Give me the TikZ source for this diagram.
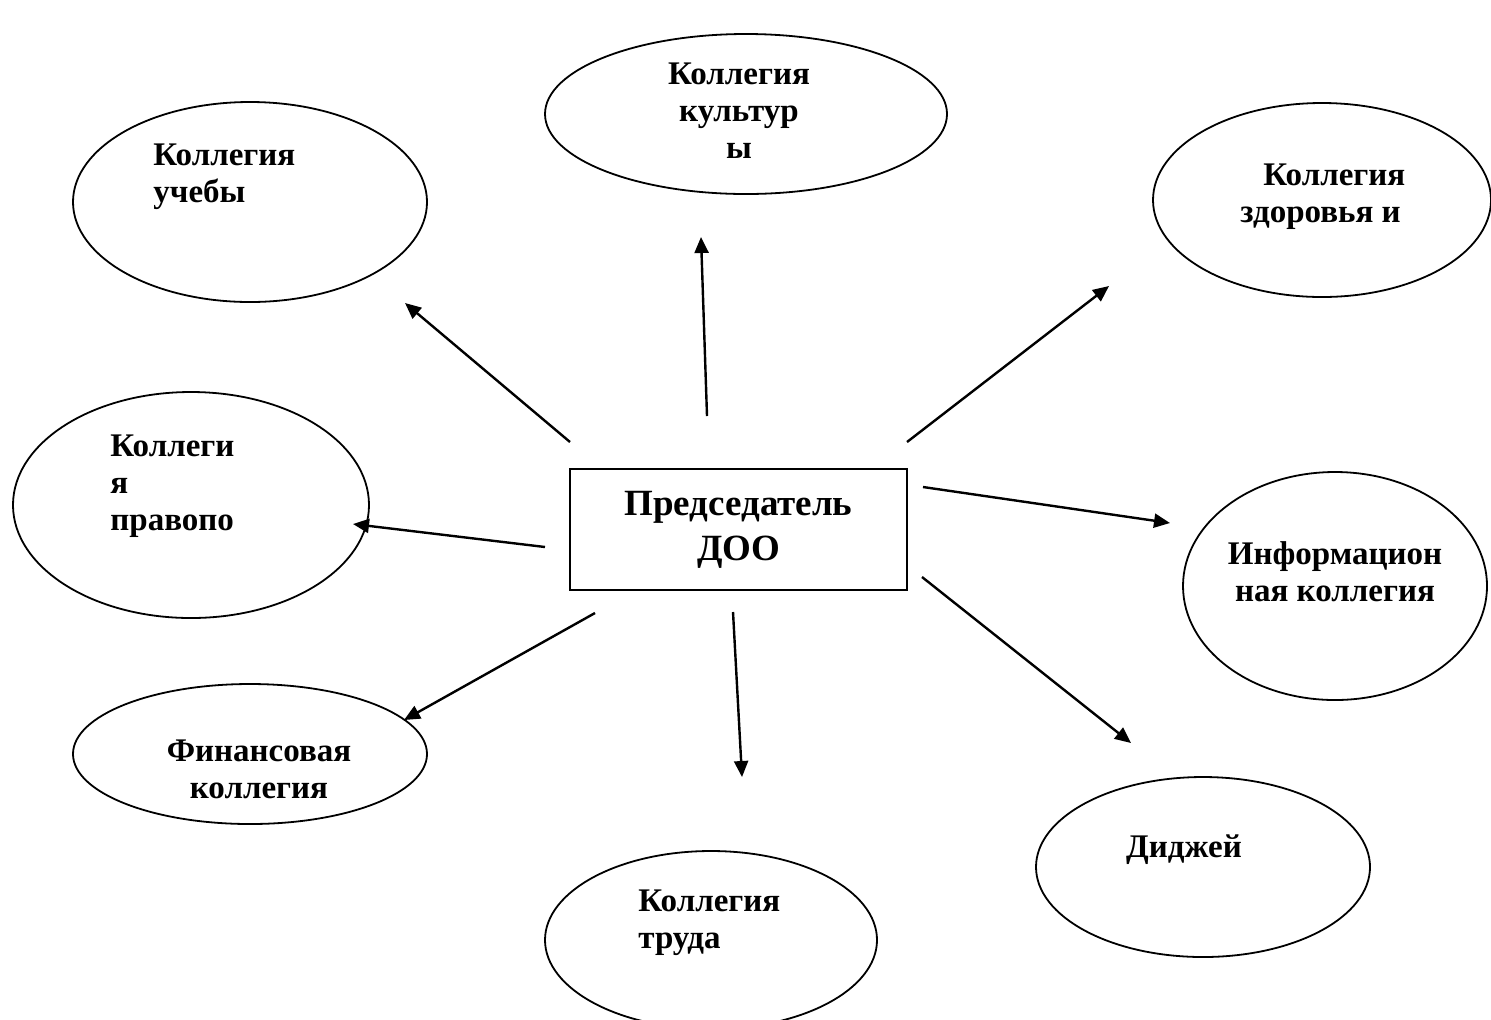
\documentclass[tikz,border=0pt]{standalone}
\usepackage{fontspec}
\setmainfont{Liberation Serif}
\usetikzlibrary{shapes.geometric,arrows.meta}
\begin{document}
\begin{tikzpicture}[x=0.5pt,y=-0.5pt,
  oval/.style={draw, ellipse, line width=0.9pt, inner sep=0pt},
  box/.style={draw, rectangle, line width=0.9pt, inner sep=0pt, align=center,
    font=\fontsize{18.5}{22.5}\selectfont\bfseries},
  lbl/.style={font=\fontsize{16.5}{18.5}\selectfont\bfseries, inner sep=0pt},
  arr/.style={line width=1.2pt, -{Triangle[length=8pt,width=7pt]}}]
\useasboundingbox (0,0) rectangle (1491,1019);
\clip (0,0) rectangle (1491,1019);
\fill[white] (0,0) rectangle (1491,1019);

% central box
\node[box, minimum width=168.5pt, minimum height=60.5pt] (chair) at (738.5,529.5) {Председатель\\ДОО};

% ellipses
\node[oval, minimum width=177pt, minimum height=100pt] (uch) at (250,202) {};
\node[oval, minimum width=201pt, minimum height=80pt] (kult) at (746,114) {};
\node[oval, minimum width=169pt, minimum height=97pt] (zdor) at (1322,200) {};
\node[oval, minimum width=178pt, minimum height=113pt] (prav) at (191,505) {};
\node[oval, minimum width=152pt, minimum height=114pt] (info) at (1335,586) {};
\node[oval, minimum width=177pt, minimum height=70pt] (fin) at (250,754) {};
\node[oval, minimum width=167pt, minimum height=90pt] (didj) at (1203,867) {};
\node[oval, minimum width=166pt, minimum height=89pt] (trud) at (711,940) {};

% labels (base anchor = baseline of the last line)
\node[lbl, align=left, anchor=base west] (tuch) at (153,202) {Коллегия\\учебы};
\node[lbl, align=center, anchor=base] (tkult) at (739,158) {Коллегия\\культур\\ы};
\node[lbl, align=left, anchor=base west] (tzdor) at (1240,222) {\hspace*{11.5pt}Коллегия\\здоровья и};
\node[lbl, align=left, anchor=base west] (tprav) at (110,530) {Коллеги\\я\\правопо};
\node[lbl, align=center, anchor=base] (tinfo) at (1335,601) {Информацион\\ная коллегия};
\node[lbl, align=center, anchor=base] (tfin) at (259,798) {Финансовая\\коллегия};
\node[lbl, anchor=base] (tdidj) at (1184,857) {Диджей};
\node[lbl, align=left, anchor=base west] (ttrud) at (638,948) {Коллегия\\труда};

% arrow end points
\coordinate (s1) at (570,442); \coordinate (e1) at (405,303);
\coordinate (s2) at (707,416); \coordinate (e2) at (701,237);
\coordinate (s3) at (907,442); \coordinate (e3) at (1109,286);
\coordinate (s4) at (923,487); \coordinate (e4) at (1170,523);
\coordinate (s5) at (545,547); \coordinate (e5) at (353,524);
\coordinate (s6) at (595,613); \coordinate (e6) at (404,720);
\coordinate (s7) at (733,612); \coordinate (e7) at (742,777);
\coordinate (s8) at (922,577); \coordinate (e8) at (1131,743);

\foreach \i in {1,...,8} \draw[arr] (s\i) -- (e\i);
\end{tikzpicture}
\end{document}
